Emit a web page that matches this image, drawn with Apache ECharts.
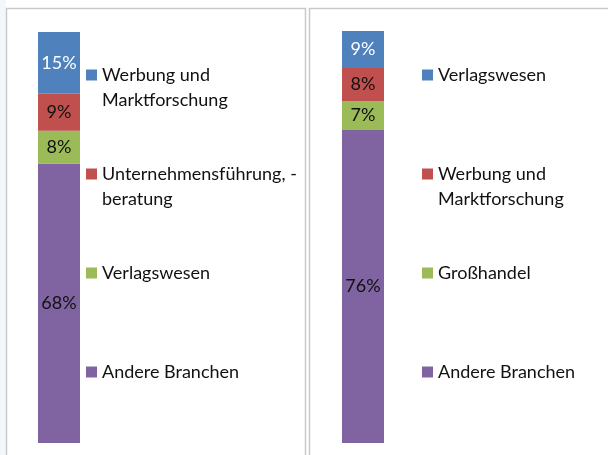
<!DOCTYPE html>
<html>
<head>
<meta charset="utf-8">
<script src="https://cdn.jsdelivr.net/npm/echarts@6/dist/echarts.min.js"></script>
<style>
html,body{margin:0;padding:0;background:#fff;}
#c{width:608px;height:455px;}
</style>
</head>
<body>
<div id="c"></div>
<script>
// Left panel
const leftCategories = ['Werbung und Marktforschung', 'Unternehmensführung, -beratung', 'Verlagswesen', 'Andere Branchen'];
const leftLegendText = ['Werbung und\nMarktforschung', 'Unternehmensführung, -\nberatung', 'Verlagswesen', 'Andere Branchen'];
const leftValues = [15, 9, 8, 68];
// Right panel
const rightCategories = ['Verlagswesen', 'Werbung und Marktforschung', 'Großhandel', 'Andere Branchen'];
const rightLegendText = ['Verlagswesen', 'Werbung und\nMarktforschung', 'Großhandel', 'Andere Branchen'];
const rightValues = [9, 8, 7, 76];

const colors = ['#4F81BD', '#C0504D', '#9BBB59', '#8064A2'];
const labelColors = ['#ffffff', '#111111', '#111111', '#111111'];
const FONT = 'Lato';
const FS = 18;
const LH = 25;

const chart = echarts.init(document.getElementById('c'), null, {renderer: 'canvas'});

const series = [];
const legends = [];
const iconCentersY = [75, 174, 273, 372];

function addPanel(prefix, cats, texts, vals, gridIndex, legendLeft) {
  const names = cats.map(c => prefix + c);
  // bottom of stack first
  for (let i = cats.length - 1; i >= 0; i--) {
    series.push({
      type: 'bar',
      name: names[i],
      xAxisIndex: gridIndex,
      yAxisIndex: gridIndex,
      stack: 'p' + gridIndex,
      barWidth: '100%',
      data: [vals[i]],
      itemStyle: {color: colors[i]},
      label: {
        show: true, position: 'inside', formatter: '{c}%',
        fontFamily: FONT, fontSize: FS, color: labelColors[i]
      }
    });
  }
  for (let i = 0; i < cats.length; i++) {
    const multi = texts[i].indexOf('\n') >= 0;
    const shown = multi ? '\n' + texts[i] : texts[i];
    const boxH = multi ? LH * 3 : LH;
    legends.push({
      data: [names[i]],
      left: legendLeft,
      top: iconCentersY[i] - boxH / 2,
      padding: 0,
      itemWidth: 11,
      itemHeight: 11,
      icon: 'rect',
      selectedMode: false,
      formatter: () => shown,
      textStyle: {fontFamily: FONT, fontSize: FS, lineHeight: LH, color: '#111111'}
    });
  }
}

addPanel('L:', leftCategories, leftLegendText, leftValues, 0, 86);
addPanel('R:', rightCategories, rightLegendText, rightValues, 1, 422);

chart.setOption({
  animation: false,
  backgroundColor: '#ffffff',
  graphic: [
    {type: 'rect', shape: {x: 0, y: 0, width: 6, height: 455}, style: {fill: '#f3f6fb'}, silent: true, z: -10},
    {type: 'rect', shape: {x: 6.5, y: 8.5, width: 299, height: 470}, style: {fill: 'none', stroke: '#c9c9c9', lineWidth: 1.5}, silent: true, z: -5},
    {type: 'rect', shape: {x: 309.5, y: 8.5, width: 320, height: 470}, style: {fill: 'none', stroke: '#c9c9c9', lineWidth: 1.5}, silent: true, z: -5}
  ],
  grid: [
    {left: 38, top: 32, width: 42, height: 411},
    {left: 342, top: 31, width: 42, height: 412}
  ],
  xAxis: [
    {type: 'category', gridIndex: 0, data: ['a'], show: false},
    {type: 'category', gridIndex: 1, data: ['b'], show: false}
  ],
  yAxis: [
    {type: 'value', gridIndex: 0, min: 0, max: 100, show: false},
    {type: 'value', gridIndex: 1, min: 0, max: 100, show: false}
  ],
  legend: legends,
  series: series
});
</script>
</body>
</html>
